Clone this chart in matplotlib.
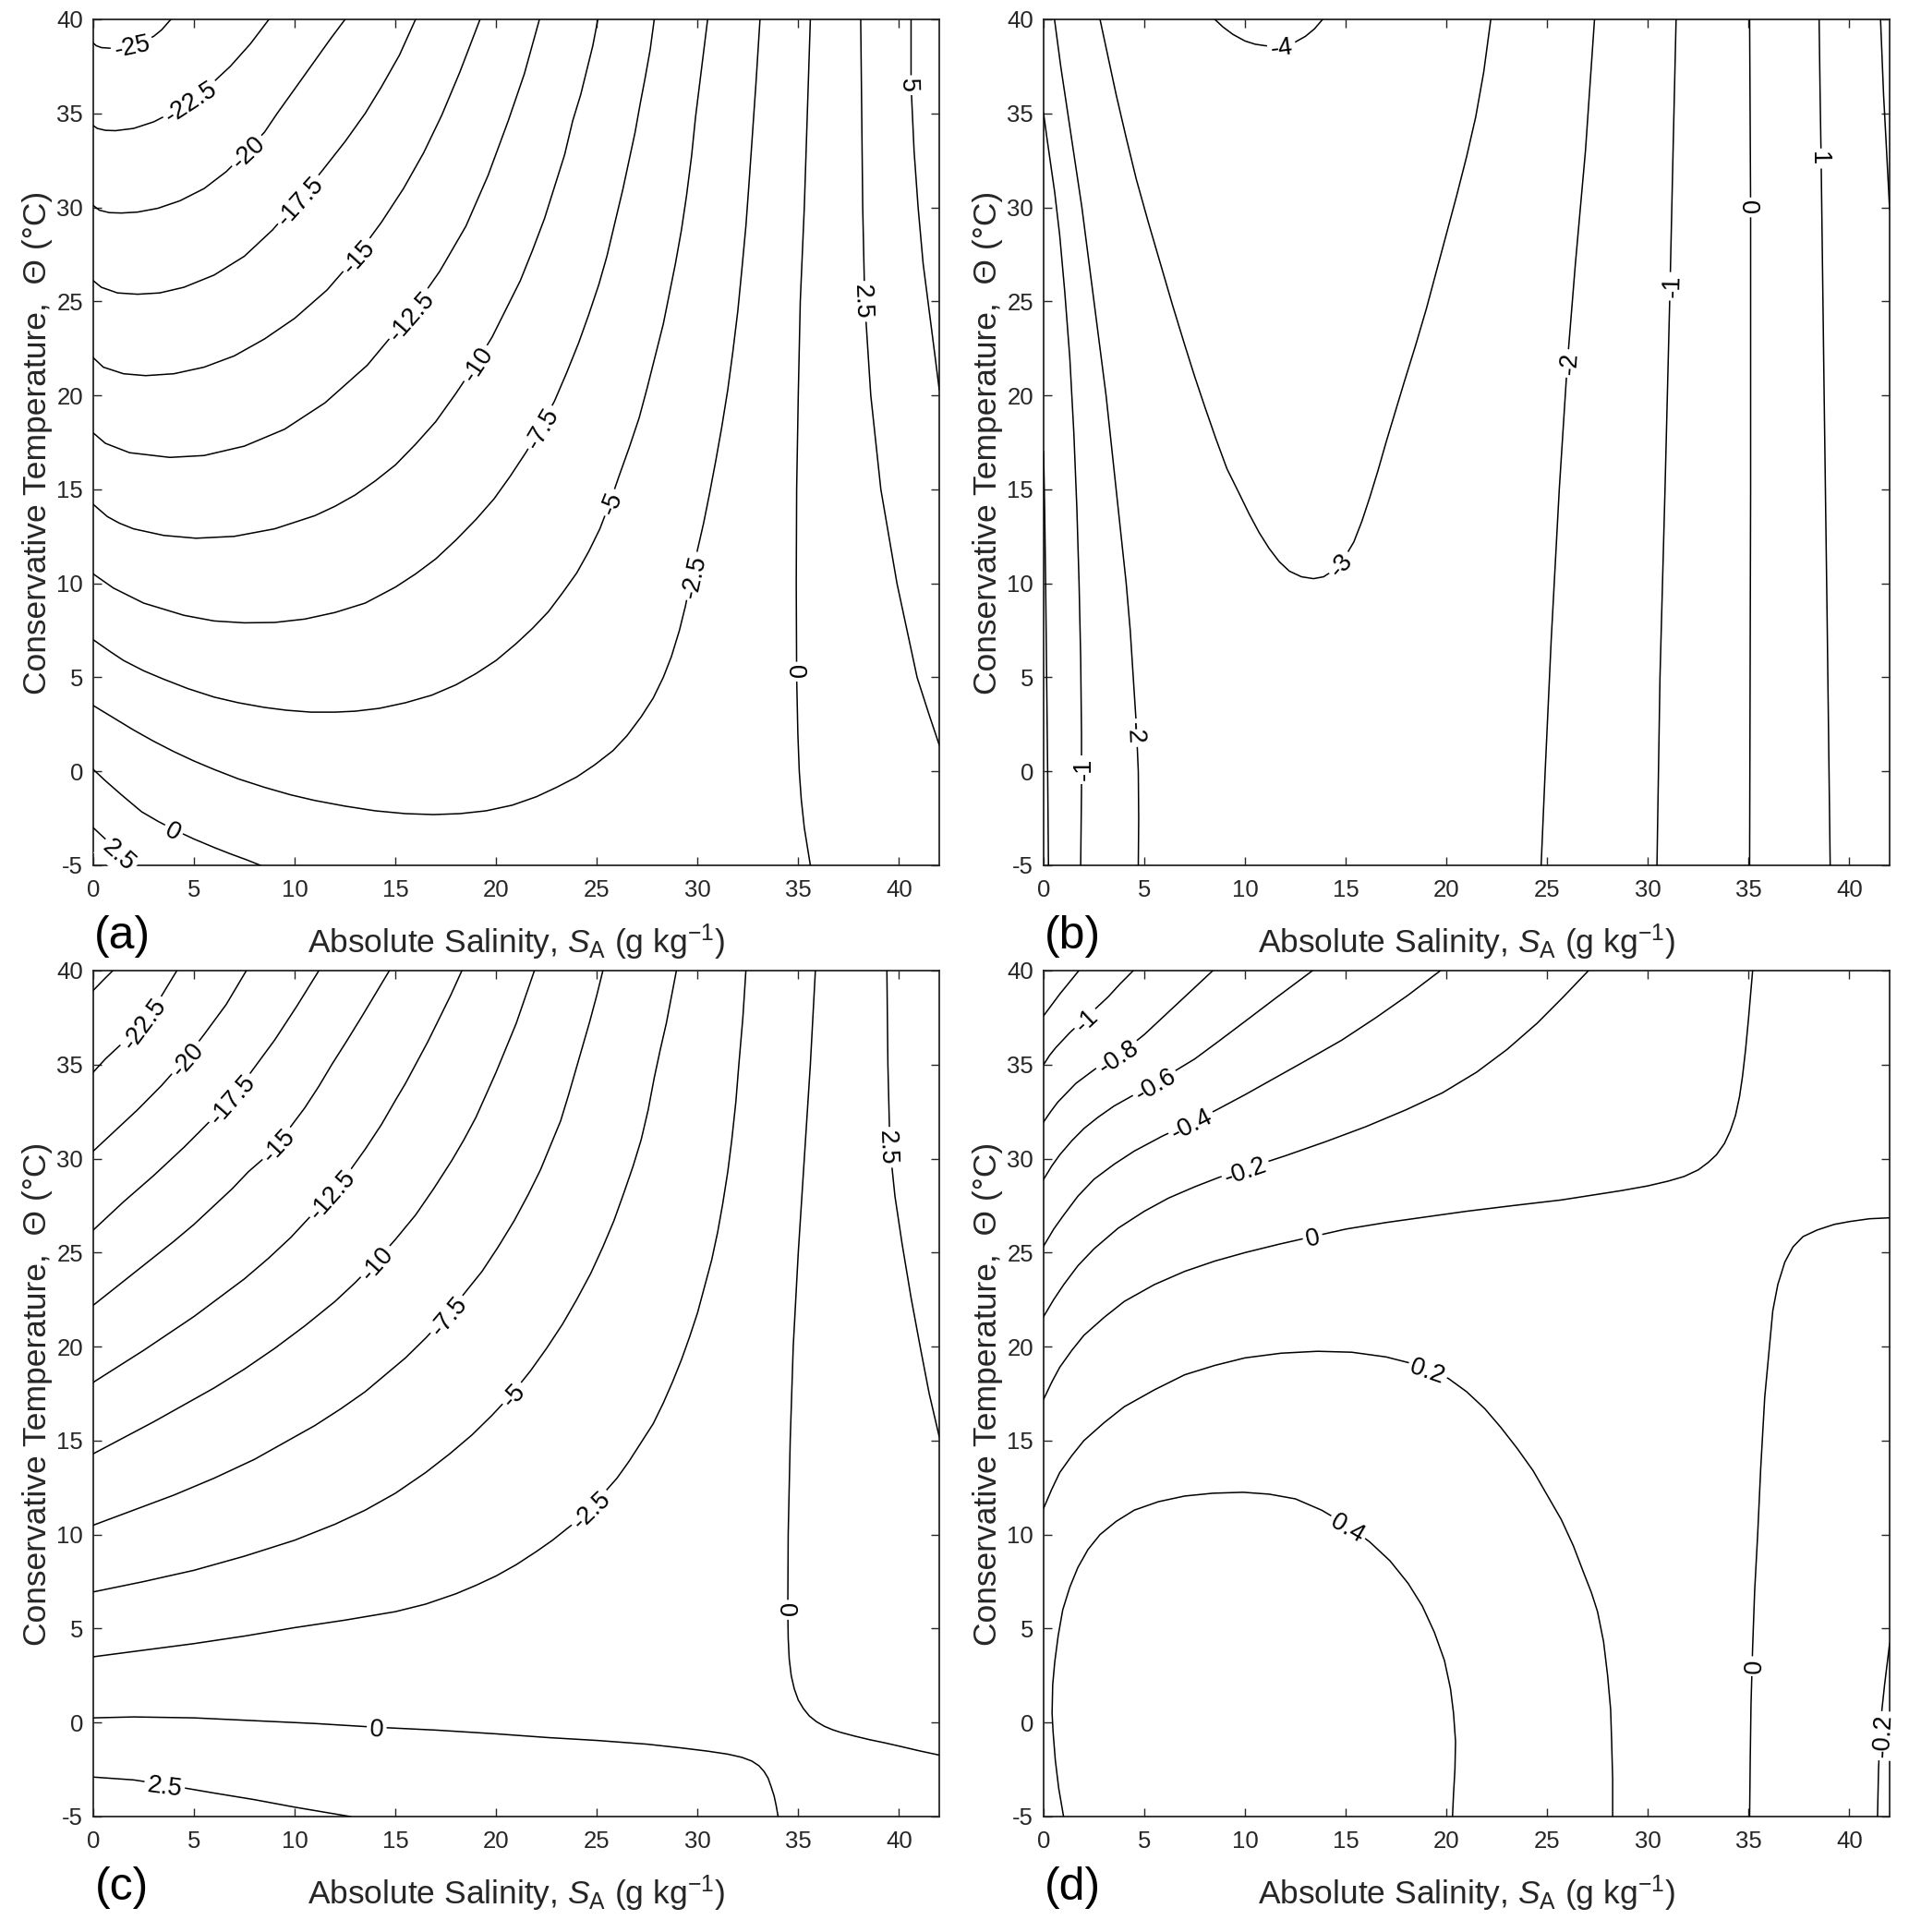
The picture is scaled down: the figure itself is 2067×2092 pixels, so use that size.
import numpy as np
import matplotlib
matplotlib.use("Agg")
import matplotlib.pyplot as plt

plt.rcParams['font.family'] = ['Liberation Sans', 'DejaVu Sans']
plt.rcParams['axes.unicode_minus'] = False
plt.rcParams['mathtext.fontset'] = 'custom'
plt.rcParams['mathtext.rm'] = 'Liberation Sans'
plt.rcParams['mathtext.it'] = 'Liberation Sans:italic'

# ---------------- data: contour lines (S_A, Theta) ----------------
x_ticks = [0, 5, 10, 15, 20, 25, 30, 35, 40]
y_ticks = [-5, 0, 5, 10, 15, 20, 25, 30, 35, 40]
panel_tags = ['(a)', '(b)', '(c)', '(d)']

# Panel (a)
a_m25_S = [0, 0.15, 0.4, 0.8, 1.3, 1.9, 2.5, 3.0, 3.4, 3.85]
a_m25_T = [38.74, 38.6, 38.5, 38.47, 38.52, 38.65, 38.85, 39.1, 39.45, 40.0]
a_m22_S = [0, 0.2, 0.6, 1.1, 2.0, 3.0, 4.0, 4.8, 5.8, 6.8, 7.8, 8.72]
a_m22_T = [34.35, 34.2, 34.1, 34.08, 34.2, 34.55, 35.1, 35.7, 36.5, 37.5, 38.7, 40.0]
a_m20_S = [0, 0.3, 0.8, 1.4, 2.2, 3.2, 4.3, 5.5, 6.6, 7.63, 8.5, 9.13, 10.0, 11.0, 11.8, 12.5]
a_m20_T = [30.1, 29.85, 29.72, 29.7, 29.75, 29.95, 30.35, 31.0, 31.9, 33.0, 34.0, 35.0, 36.3, 37.8, 39.0, 40.0]
a_m17_S = [0, 0.4, 1.2, 2.2, 3.3, 4.5, 6.0, 7.5, 8.9, 10.2, 11.4, 12.5, 13.5, 14.3, 15.2, 16.0]
a_m17_T = [26.1, 25.75, 25.45, 25.38, 25.45, 25.75, 26.4, 27.4, 28.8, 30.4, 32.0, 33.5, 35.0, 36.4, 38.1, 40.0]
a_m15_S = [0, 0.5, 1.5, 2.6, 4.0, 5.5, 7.0, 8.5, 10.0, 11.6, 13.1, 14.3, 15.4, 16.4, 17.3, 18.2, 19.2]
a_m15_T = [22.0, 21.5, 21.15, 21.05, 21.15, 21.5, 22.1, 23.0, 24.1, 25.6, 27.45, 29.2, 31.0, 32.9, 34.9, 37.2, 40.0]
a_m12_S = [0, 0.6, 1.8, 3.8, 5.5, 7.5, 9.5, 11.5, 13.6, 15.7, 17.2, 18.5, 19.6, 20.6, 21.4, 22.15]
a_m12_T = [18.0, 17.45, 16.95, 16.7, 16.8, 17.3, 18.2, 19.6, 21.6, 24.3, 26.6, 29.0, 31.7, 34.6, 37.1, 40.0]
a_m10_S = [0, 0.7, 1.3, 2.0, 3.5, 5.1, 7.0, 9.0, 11.0, 12.0, 13.0, 14.0, 15.0, 16.0, 17.0, 18.0, 19.0,
           19.8, 20.5, 21.2, 21.8, 22.4, 22.9, 23.4, 23.8, 24.2, 24.5, 24.8, 25.05]
a_m10_T = [14.2, 13.55, 13.2, 12.9, 12.55, 12.4, 12.5, 12.9, 13.6, 14.1, 14.7, 15.45, 16.3, 17.4, 18.6, 20.1, 21.7,
           23.1, 24.6, 26.1, 27.7, 29.4, 31.1, 32.8, 34.6, 36.0, 37.3, 38.6, 40.0]
a_m7_S = [0, 1.0, 2.5, 4.5, 6.0, 7.5, 9.0, 10.5, 12.0, 13.5, 15.0, 16.0, 17.0, 18.0, 19.0, 19.9, 20.7, 21.5,
          22.2, 22.9, 23.5, 24.1, 24.6, 25.1, 25.5, 25.9, 26.3, 26.6, 26.9, 27.15, 27.4, 27.65, 27.85]
a_m7_T = [10.5, 9.75, 8.95, 8.3, 8.0, 7.9, 7.92, 8.1, 8.45, 8.95, 9.8, 10.5, 11.3, 12.3, 13.4, 14.5, 15.7, 17.0,
          18.3, 19.7, 21.2, 22.8, 24.3, 25.9, 27.4, 29.2, 31.0, 32.5, 34.0, 35.5, 36.9, 38.4, 40.0]
a_m5_S = [0, 0.8, 1.5, 2.5, 3.5, 4.7, 6.0, 7.2, 8.5, 9.6, 10.8, 12.0, 13.0, 14.2, 15.5, 16.8, 18.0, 19.0,
          20.0, 21.0, 21.8, 22.6, 23.3, 24.0, 24.6, 25.15, 25.65, 26.1, 26.6, 27.1, 27.5, 27.9, 28.3, 28.6,
          28.9, 29.2, 29.45, 29.7, 29.9, 30.2, 30.5]
a_m5_T = [7.0, 6.4, 5.9, 5.35, 4.9, 4.4, 3.95, 3.65, 3.4, 3.25, 3.15, 3.15, 3.2, 3.35, 3.65, 4.05, 4.6, 5.2,
          5.9, 6.8, 7.6, 8.5, 9.5, 10.55, 11.7, 12.9, 14.3, 15.7, 17.2, 18.8, 20.4, 22.1, 23.8, 25.4,
          27.0, 28.8, 30.6, 32.7, 34.8, 37.4, 40.0]
a_m2_S = [0, 1, 2, 3, 4, 5, 6, 7.2, 8.5, 9.8, 11, 12.5, 14, 15.5, 16.9, 18.2, 19.5, 20.8, 22, 23, 24, 24.9,
          25.8, 26.5, 27.2, 27.8, 28.3, 28.7, 29.1, 29.4, 29.7, 30.0, 30.3, 30.6, 30.9, 31.2, 31.5, 31.75,
          32.0, 32.2, 32.4, 32.55, 32.7, 32.9, 33.1]
a_m2_T = [3.5, 2.85, 2.2, 1.6, 1.05, 0.55, 0.1, -0.4, -0.85, -1.25, -1.55, -1.85, -2.1, -2.25, -2.3, -2.25,
          -2.1, -1.8, -1.35, -0.85, -0.3, 0.35, 1.1, 1.9, 2.9, 3.9, 5.0, 6.1, 7.5, 8.8, 10.4, 11.8, 13.2,
          14.8, 16.5, 18.3, 20.3, 22.3, 24.5, 26.7, 29.0, 31.2, 33.5, 36.6, 40.0]
a_z_S = [35.6, 35.45, 35.3, 35.1, 35.0, 34.92, 34.9, 34.92, 34.98, 35.05, 35.15, 35.3, 35.45, 35.6]
a_z_T = [40, 35, 30, 25, 20, 15, 10, 5, 2, 0, -1.5, -3, -4, -5]
a_zlow_S = [0, 0.6, 1.4, 2.4, 3.2, 4.0, 5.0, 6.0, 6.83, 7.6, 8.3]
a_zlow_T = [0.1, -0.5, -1.25, -2.15, -2.65, -3.1, -3.6, -4.05, -4.4, -4.7, -5.0]
a_p2low_S = [0, 0.4, 0.8, 1.2, 1.6, 2.05]
a_p2low_T = [-3.0, -3.4, -3.8, -4.2, -4.6, -5.0]
a_p2_S = [38.1, 38.15, 38.2, 38.3, 38.6, 39.1, 39.9, 40.9, 41.5, 42.0]
a_p2_T = [40, 35, 30, 25, 20, 15, 10, 5, 3, 1.4]
a_p5_S = [40.6, 40.6, 40.75, 40.95, 41.2, 41.5, 41.8, 42.0]
a_p5_T = [40, 36.5, 33, 30, 27, 24.5, 22, 20.3]
a_label_text = ['-25', '-22.5', '-20', '-17.5', '-15', '-12.5', '-10', '-7.5', '-5', '-2.5', '0', '2.5', '5', '0', '2.5']
a_label_S = [1.9, 4.8, 7.63, 10.2, 13.1, 15.7, 19.0, 22.2, 25.65, 29.7, 34.9, 38.25, 40.6, 4.0, 1.35]
a_label_T = [38.65, 35.7, 33.0, 30.4, 27.45, 24.3, 21.7, 18.3, 14.3, 10.4, 5.3, 25.0, 36.5, -3.1, -4.35]

# Panel (b)
b_m4_S = [8.5, 8.9, 9.4, 10.0, 10.5, 11.0, 11.5, 12.0, 12.5, 13.0, 13.45, 13.85]
b_m4_T = [40, 39.6, 39.2, 38.85, 38.68, 38.6, 38.58, 38.62, 38.8, 39.1, 39.5, 40]
b_m3_S = [2.8, 3.2, 3.6, 4.1, 4.6, 5.2, 5.8, 6.4, 7.0, 7.5, 8.0, 8.55, 9.1, 9.7, 10.2, 10.7, 11.2, 11.7,
          12.2, 12.8, 13.4, 13.9, 14.4, 14.9, 15.4, 15.8, 16.2, 16.6, 17.0, 17.45, 17.9, 18.45, 19.0,
          19.5, 20.0, 20.5, 21.0, 21.45, 21.85, 22.2]
b_m3_T = [40, 38, 36, 33.7, 31.5, 29.2, 27, 24.8, 22.7, 21.0, 19.4, 17.7, 16.1, 14.8, 13.7, 12.7, 11.85,
          11.15, 10.65, 10.35, 10.25, 10.35, 10.7, 11.3, 12.2, 13.3, 14.6, 16.0, 17.5, 19.1, 20.7, 22.6,
          24.6, 26.6, 28.6, 30.6, 32.7, 34.8, 37.2, 40]
b_m2L_S = [0.54, 0.85, 1.2, 1.55, 1.9, 2.2, 2.5, 2.8, 3.1, 3.35, 3.6, 3.85, 4.1, 4.3, 4.45, 4.6, 4.7, 4.72, 4.7]
b_m2L_T = [40, 37.5, 35, 32.5, 30, 27.5, 25, 22.5, 20, 17.5, 15, 12.5, 10, 7.5, 5, 2.5, 0, -2.5, -5]
b_m1L_S = [0, 0.15, 0.35, 0.55, 0.8, 1.05, 1.3, 1.5, 1.65, 1.76, 1.84, 1.88, 1.88, 1.84]
b_m1L_T = [35, 33.8, 32.3, 30.8, 28.5, 25.5, 22, 18, 14, 10, 6, 2, -1, -5]
b_zL_S = [0, 0.05, 0.1, 0.15, 0.2, 0.24]
b_zL_T = [17, 14, 10, 5, 0, -5]
b_m2R_S = [27.35, 26.9, 26.4, 26.0, 25.6, 25.2, 24.9, 24.7]
b_m2R_T = [40, 33, 27, 21.7, 15, 7, 0, -5]
b_m1R_S = [31.4, 31.25, 31.1, 30.85, 30.6, 30.45]
b_m1R_T = [40, 33, 25.8, 15, 5, -5]
b_zR_S = [35.05, 35.1, 35.1, 35.05]
b_zR_T = [40, 30, 15, -5]
b_p1_S = [38.5, 38.55, 38.6, 38.75, 38.9, 39.05]
b_p1_T = [40, 36, 32.6, 20, 8, -5]
b_edge_S = [41.55, 41.7, 41.85, 42.0]
b_edge_T = [40, 36, 33, 29.9]
b_label_text = ['-4', '-3', '-2', '-1', '-2', '-1', '0', '1']
b_label_S = [11.8, 14.55, 4.6, 1.9, 26.0, 31.1, 35.1, 38.55]
b_label_T = [38.6, 11.2, 2.05, 0.1, 21.7, 25.8, 30.0, 32.6]

# Panel (c)
c_m25_S = [0, 0.5, 0.97]
c_m25_T = [38.95, 39.5, 40]
c_m22_S = [0, 0.6, 1.5, 2.4, 3.3, 4.15]
c_m22_T = [34.6, 35.3, 36.2, 37.2, 38.5, 40]
c_m20_S = [0, 1.0, 2.2, 3.4, 4.6, 5.5, 6.6, 7.6]
c_m20_T = [30.4, 31.4, 32.6, 33.9, 35.35, 36.6, 38.2, 40]
c_m17_S = [0, 0.75, 1.5, 2.25, 3.0, 3.75, 4.5, 5.2, 5.8, 6.3, 6.8, 7.35, 7.9, 8.45, 9.0, 9.55, 10.1, 10.65, 11.2]
c_m17_T = [26.2, 26.95, 27.7, 28.4, 29.1, 29.85, 30.6, 31.35, 32.0, 32.6, 33.2, 33.9, 34.7, 35.5, 36.3, 37.2, 38.1, 39.05, 40]
c_m15_S = [0, 1, 2, 3, 4, 5, 6, 6.9, 7.7, 8.45, 9.14, 9.8, 10.5, 11.2, 11.84, 12.55, 13.3, 14.0, 14.7]
c_m15_T = [22.2, 23.05, 23.9, 24.75, 25.6, 26.5, 27.5, 28.4, 29.3, 30.0, 30.76, 31.7, 32.7, 33.85, 35.0, 36.2, 37.5, 38.75, 40]
c_m12_S = [0, 1.25, 2.5, 3.75, 5, 6.25, 7.5, 8.7, 9.8, 10.8, 11.8, 12.7, 13.5, 14.3, 15.0, 15.5, 16.0, 16.6, 17.2, 17.75, 18.3]
c_m12_T = [18.1, 18.95, 19.8, 20.7, 21.6, 22.6, 23.6, 24.7, 25.8, 26.95, 28.15, 29.3, 30.5, 31.8, 33.1, 34.0, 35.0, 36.2, 37.5, 38.7, 40]
c_m10_S = [0, 1.5, 3, 4.5, 6, 7.5, 9, 10.5, 12, 13, 14, 15, 16, 16.9, 17.8, 18.4, 19.0, 19.5, 20.0, 20.5, 21.0, 21.45, 21.9]
c_m10_T = [14.3, 15.15, 16.0, 16.9, 17.8, 18.8, 19.9, 21.1, 22.4, 23.4, 24.5, 25.7, 27.0, 28.4, 29.9, 31.0, 32.2, 33.4, 34.6, 35.9, 37.2, 38.6, 40]
c_m7_S = [0, 2, 4, 6, 8, 9.5, 11, 12.3, 13.5, 14.5, 15.5, 16.5, 17.5, 18.4, 19.3, 20.1, 20.9, 21.6, 22.2,
          22.7, 23.2, 23.6, 23.95, 24.3, 24.65, 25.0, 25.3]
c_m7_T = [10.5, 11.3, 12.1, 13.0, 14.0, 14.9, 15.8, 16.7, 17.6, 18.5, 19.4, 20.45, 21.6, 22.8, 24.0, 25.3, 26.7,
          28.1, 29.4, 30.7, 32.0, 33.4, 34.7, 36.0, 37.3, 38.7, 40]
c_m5_S = [0, 2.5, 5, 7.5, 10, 12, 13.5, 15, 16.5, 17.7, 18.8, 19.8, 20.8, 21.7, 22.5, 23.3, 24.0, 24.7, 25.3,
          25.85, 26.35, 26.8, 27.2, 27.55, 27.85, 28.15, 28.45, 28.7, 28.95]
c_m5_T = [6.95, 7.5, 8.1, 8.85, 9.7, 10.55, 11.3, 12.2, 13.3, 14.3, 15.3, 16.35, 17.5, 18.7, 19.9, 21.2, 22.5,
          23.9, 25.3, 26.7, 28.2, 29.6, 31.0, 32.6, 34.3, 35.8, 37.2, 38.6, 40]
c_m2_S = [0, 2.5, 5, 7.5, 10, 12.5, 15, 16.5, 18, 19, 20, 21, 22, 22.8, 23.5, 24.1, 24.65, 25.3, 26, 26.6,
          27.2, 27.8, 28.3, 28.75, 29.2, 29.6, 30.0, 30.35, 30.7, 31.0, 31.25, 31.5, 31.7, 31.9, 32.05, 32.25, 32.4]
c_m2_T = [3.5, 3.85, 4.2, 4.6, 5.05, 5.45, 5.9, 6.3, 6.85, 7.3, 7.8, 8.4, 9.1, 9.7, 10.3, 10.8, 11.4, 12.15,
          13.0, 13.9, 14.9, 15.9, 17.0, 18.1, 19.3, 20.5, 21.8, 23.2, 24.6, 26.1, 27.6, 29.3, 31.0, 33.0, 35.0, 37.5, 40]
c_zR_S = [35.85, 35.6, 35.3, 35.0, 34.75, 34.6, 34.5, 34.48, 34.5, 34.55, 34.65, 34.8, 35.0, 35.25, 35.55,
          35.9, 36.3, 36.7, 37.1, 37.8, 38.5, 39.3, 40.0, 41.0, 42.0]
c_zR_T = [40, 35, 30, 25, 20, 15, 10, 6, 4.5, 3.4, 2.5, 1.8, 1.2, 0.75, 0.35, 0.05, -0.2, -0.38, -0.52,
          -0.72, -0.9, -1.08, -1.25, -1.5, -1.73]
c_zlow_S = [0, 2, 5, 8, 11, 14.07, 17, 20, 22.6, 25, 27.5, 29.2, 30.5, 31.5, 32.2, 32.7, 33.05, 33.3, 33.5,
            33.65, 33.8, 33.9, 34.0]
c_zlow_T = [0.25, 0.3, 0.25, 0.1, -0.05, -0.25, -0.4, -0.6, -0.8, -0.95, -1.15, -1.35, -1.52, -1.68, -1.85,
            -2.05, -2.3, -2.6, -2.95, -3.4, -3.9, -4.4, -5]
c_p2low_S = [0, 2, 3.55, 6, 8, 10, 12.77]
c_p2low_T = [-2.9, -3.05, -3.3, -3.75, -4.1, -4.5, -5]
c_p2R_S = [39.4, 39.45, 39.55, 39.8, 40.15, 40.6, 41.06, 41.5, 42]
c_p2R_T = [40, 35, 30.6, 28, 25.5, 22.6, 19.95, 17.5, 15.2]
c_label_text = ['-22.5', '-20', '-17.5', '-15', '-12.5', '-10', '-7.5', '-5', '-2.5', '0', '2.5', '0', '2.5']
c_label_S = [2.4, 4.6, 6.8, 9.14, 11.8, 13.98, 17.5, 20.8, 24.65, 34.5, 39.55, 14.07, 3.55]
c_label_T = [37.3, 35.35, 33.2, 30.76, 28.15, 24.55, 21.75, 17.5, 11.4, 6.0, 30.6, -0.25, -3.3]

# Panel (d)
d_m12_S = [0, 0.8, 1.75]
d_m12_T = [37.6, 38.75, 40]
d_m10_S = [0, 0.3, 0.6, 0.95, 1.3, 1.65, 2.05, 2.6, 3.2, 3.8, 4.45]
d_m10_T = [35.0, 35.5, 35.9, 36.3, 36.7, 37.05, 37.45, 38.0, 38.6, 39.3, 40]
d_m08_S = [0, 0.35, 0.7, 1.15, 1.6, 2.1, 2.6, 3.1, 3.64, 4.3, 5.0, 5.8, 6.6, 7.5, 8.4]
d_m08_T = [31.95, 32.5, 33.0, 33.5, 34.0, 34.4, 34.8, 35.15, 35.5, 36.0, 36.6, 37.4, 38.2, 39.1, 40]
d_m06_S = [0, 0.4, 0.8, 1.4, 2, 2.7, 3.5, 4.5, 5.5, 6.5, 7.5, 8.7, 10, 11.6, 13.35]
d_m06_T = [28.9, 29.6, 30.2, 30.95, 31.6, 32.2, 32.8, 33.4, 34.0, 34.65, 35.3, 36.25, 37.3, 38.6, 40]
d_m04_S = [0, 0.5, 1, 1.7, 2.5, 3.5, 4.5, 5.9, 7.3, 8.6, 10, 11.5, 13, 14.8, 16.5, 18.1, 19.7]
d_m04_T = [25.35, 26.25, 27.0, 28.0, 28.9, 29.7, 30.4, 31.2, 31.9, 32.6, 33.4, 34.3, 35.2, 36.3, 37.5, 38.7, 40]
d_m02_S = [0, 0.5, 1, 1.7, 2.5, 3.7, 5, 6.2, 7.5, 8.7, 10, 12, 14, 16, 18, 19.8, 21.5, 23, 24.5, 25.8, 27.05]
d_m02_T = [21.6, 22.5, 23.3, 24.3, 25.2, 26.3, 27.2, 27.9, 28.5, 29.0, 29.45, 30.15, 30.9, 31.7, 32.6, 33.5,
           34.6, 35.8, 37.2, 38.6, 40]
d_z_S = [0, 0.4, 0.8, 1.4, 2, 3, 4, 5.5, 7, 8.5, 10, 11.7, 13.35, 15, 17, 19, 21, 23.3, 25.7, 28.7, 30, 31.0,
         31.8, 32.5, 33.0, 33.4, 33.8, 34.1, 34.35, 34.55, 34.7, 34.85, 35.0, 35.2]
d_z_T = [17.2, 18.1, 18.9, 19.8, 20.6, 21.55, 22.4, 23.3, 24.0, 24.55, 25.0, 25.45, 25.85, 26.25, 26.6, 26.9,
         27.2, 27.5, 27.8, 28.3, 28.55, 28.8, 29.05, 29.4, 29.8, 30.2, 30.8, 31.5, 32.3, 33.3, 34.4, 35.8, 37.5, 40]
d_p02_S = [0, 0.4, 0.8, 1.4, 2, 3, 4, 5.5, 7, 8.5, 10, 11.8, 13.6, 15.3, 17, 18.1, 19.1, 20.1, 21, 21.9,
           22.7, 23.5, 24.3, 25.0, 25.7, 26.3, 26.8, 27.2, 27.5, 27.8, 28.0, 28.15, 28.2, 28.25, 28.25]
d_p02_T = [11.4, 12.4, 13.3, 14.2, 15.0, 15.95, 16.8, 17.7, 18.5, 19.0, 19.4, 19.65, 19.75, 19.7, 19.45, 19.15,
           18.8, 18.3, 17.6, 16.7, 15.7, 14.6, 13.4, 12.1, 10.8, 9.4, 8.0, 6.9, 5.9, 4.3, 2.5, 0.7, -1.0, -3, -5]
d_p04_S = [0.99, 0.75, 0.58, 0.47, 0.42, 0.45, 0.55, 0.72, 0.95, 1.3, 1.7, 2.2, 2.8, 3.6, 4.5, 5.7, 7, 8.4,
           9.9, 11.2, 12.5, 13.8, 15.15, 16.2, 17.2, 18.1, 18.8, 19.4, 19.9, 20.2, 20.35, 20.45, 20.42, 20.35, 20.3]
d_p04_T = [-5, -3.5, -2, -0.5, 0.5, 2, 3.2, 4.6, 6.0, 7.2, 8.25, 9.2, 10.0, 10.7, 11.3, 11.75, 12.05, 12.2,
           12.25, 12.15, 11.9, 11.3, 10.45, 9.6, 8.6, 7.4, 6.2, 4.8, 3.3, 1.8, 0.5, -1.0, -2.5, -3.8, -5]
d_zR_S = [42, 41, 40, 39.25, 38.4, 37.7, 37.2, 36.8, 36.45, 36.2, 36.0, 35.8, 35.6, 35.45, 35.3, 35.2, 35.12, 35.08, 35.05]
d_zR_T = [26.85, 26.8, 26.65, 26.5, 26.2, 25.85, 25.3, 24.5, 23.3, 21.9, 19.6, 17.3, 13.5, 10, 7, 4, 1, -2, -5]
d_m02R_S = [42, 41.75, 41.55, 41.45, 41.4]
d_m02R_T = [4.2, 2, 0, -2.5, -5]
d_label_text = ['-1', '-0.8', '-0.6', '-0.4', '-0.2', '0', '0.2', '0.4', '0', '-0.2']
d_label_S = [2.05, 3.64, 5.5, 7.3, 10.0, 13.35, 19.1, 15.15, 35.15, 41.5]
d_label_T = [37.45, 35.5, 34.0, 31.9, 29.45, 25.85, 18.8, 10.45, 3.0, -0.7]

panel_a_curves = [(a_m25_S, a_m25_T), (a_m22_S, a_m22_T), (a_m20_S, a_m20_T), (a_m17_S, a_m17_T),
                  (a_m15_S, a_m15_T), (a_m12_S, a_m12_T), (a_m10_S, a_m10_T), (a_m7_S, a_m7_T),
                  (a_m5_S, a_m5_T), (a_m2_S, a_m2_T), (a_z_S, a_z_T), (a_zlow_S, a_zlow_T),
                  (a_p2low_S, a_p2low_T), (a_p2_S, a_p2_T), (a_p5_S, a_p5_T)]
panel_b_curves = [(b_m4_S, b_m4_T), (b_m3_S, b_m3_T), (b_m2L_S, b_m2L_T), (b_m1L_S, b_m1L_T),
                  (b_zL_S, b_zL_T), (b_m2R_S, b_m2R_T), (b_m1R_S, b_m1R_T), (b_zR_S, b_zR_T),
                  (b_p1_S, b_p1_T), (b_edge_S, b_edge_T)]
panel_c_curves = [(c_m25_S, c_m25_T), (c_m22_S, c_m22_T), (c_m20_S, c_m20_T), (c_m17_S, c_m17_T),
                  (c_m15_S, c_m15_T), (c_m12_S, c_m12_T), (c_m10_S, c_m10_T), (c_m7_S, c_m7_T),
                  (c_m5_S, c_m5_T), (c_m2_S, c_m2_T), (c_zR_S, c_zR_T), (c_zlow_S, c_zlow_T),
                  (c_p2low_S, c_p2low_T), (c_p2R_S, c_p2R_T)]
panel_d_curves = [(d_m12_S, d_m12_T), (d_m10_S, d_m10_T), (d_m08_S, d_m08_T), (d_m06_S, d_m06_T),
                  (d_m04_S, d_m04_T), (d_m02_S, d_m02_T), (d_z_S, d_z_T), (d_p02_S, d_p02_T),
                  (d_p04_S, d_p04_T), (d_zR_S, d_zR_T), (d_m02R_S, d_m02R_T)]

panels = [
    (panel_a_curves, a_label_text, a_label_S, a_label_T),
    (panel_b_curves, b_label_text, b_label_S, b_label_T),
    (panel_c_curves, c_label_text, c_label_S, c_label_T),
    (panel_d_curves, d_label_text, d_label_S, d_label_T),
]

# ---------------- layout ----------------
W, H = 2067, 2092
fig = plt.figure(figsize=(W / 100, H / 100), dpi=100)
fig.patch.set_facecolor('white')

ax_w, ax_h = 916, 916
lefts = [101, 1130, 101, 1130]
bottoms_px = [937, 937, 1967, 1967]   # pixel row of the axes bottom (from top)

AX_COL = '#262626'
LINE_LW = 1.1


def place_label(ax, curves, text, s, t):
    tr = ax.transData
    p = tr.transform((s, t))
    best = None
    for S, T in curves:
        P = tr.transform(np.column_stack([S, T]))
        for i in range(len(P) - 1):
            a, b = P[i], P[i + 1]
            d = b - a
            L2 = (d ** 2).sum()
            u = 0.0 if L2 == 0 else np.clip(((p - a) * d).sum() / L2, 0, 1)
            q = a + u * d
            dist = np.hypot(*(p - q))
            if best is None or dist < best[0]:
                best = (dist, P, i, q)
    _, P, i, q = best
    i0 = max(i - 1, 0)
    i1 = min(i + 2, len(P) - 1)
    dv = P[i1] - P[i0]
    ang = np.degrees(np.arctan2(dv[1], dv[0]))
    if ang > 90:
        ang -= 180
    elif ang <= -90:
        ang += 180
    qd = tr.inverted().transform(q)
    ax.text(qd[0], qd[1], text, rotation=ang, rotation_mode='anchor',
            ha='center', va='center_baseline', fontsize=19.5, color='black',
            bbox=dict(boxstyle='square,pad=0.12', fc='white', ec='none'),
            zorder=5, clip_on=False)


for k, (curves, ltxt, lS, lT) in enumerate(panels):
    l = lefts[k] / W
    b = (H - bottoms_px[k]) / H
    ax = fig.add_axes([l, b, ax_w / W, ax_h / H])
    ax.set_xlim(0, 42)
    ax.set_ylim(-5, 40)
    ax.set_xticks(x_ticks)
    ax.set_yticks(y_ticks)
    ax.tick_params(direction='in', top=True, right=True, length=6.5, width=1.0,
                   colors=AX_COL, labelsize=18.5, labelcolor=AX_COL)
    ax.tick_params(axis='x', pad=11)
    ax.tick_params(axis='y', pad=8)
    for sp in ax.spines.values():
        sp.set_color(AX_COL)
        sp.set_linewidth(1.3)
    for S, T in curves:
        ax.plot(S, T, color='black', lw=LINE_LW, solid_joinstyle='round', zorder=3)
    for txt, s, t in zip(ltxt, lS, lT):
        place_label(ax, curves, txt, s, t)
    ax.text(0.5, -0.1037, r'Absolute Salinity, $\mathit{S}_{\mathrm{A}}$ (g kg$^{-1}$)',
            transform=ax.transAxes, ha='center', va='baseline', fontsize=25.5, color=AX_COL)
    ax.text(-0.066, 0.5, 'Conservative Temperature,  Θ (°C)', transform=ax.transAxes,
            rotation=90, ha='center', va='center', fontsize=25.5, color=AX_COL)
    ax.text(0.034, -0.0846, panel_tags[k], transform=ax.transAxes, ha='center',
            va='center', fontsize=36, color='black')

fig.savefig('out.png', dpi=100, facecolor='white')
